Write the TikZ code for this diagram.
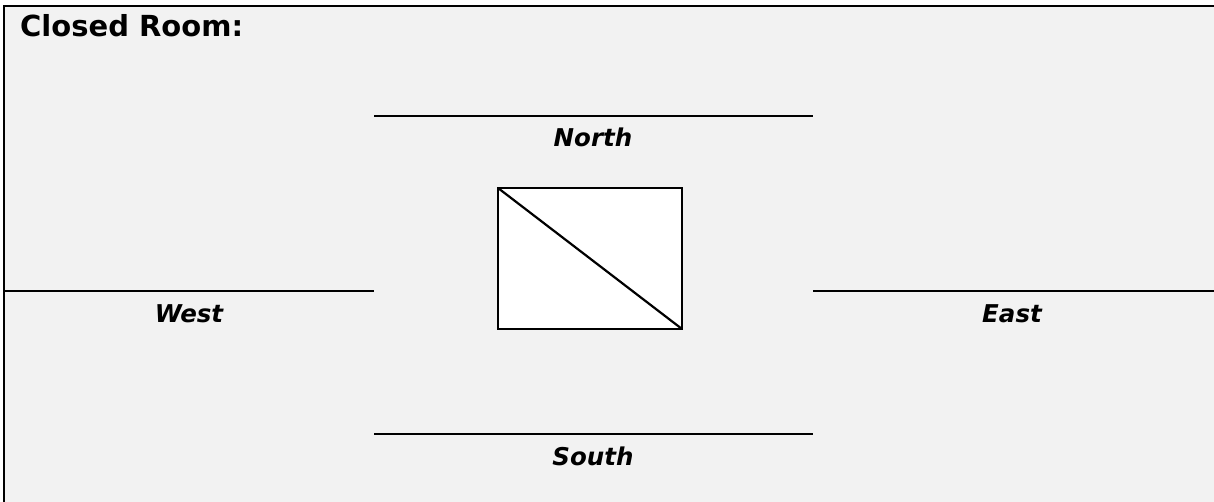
\documentclass[tikz,border=0pt]{standalone}
\usepackage{fontspec}
\setmainfont{DejaVu Sans}
\definecolor{bg}{RGB}{242,242,242}
\begin{document}
\begin{tikzpicture}[x=1pt,y=-1pt,
  wall/.style={line width=2.6pt,black},
  lbl/.style={font=\fontsize{24.5}{28}\selectfont\bfseries\itshape,anchor=base,inner sep=0pt},
  ttl/.style={font=\fontsize{29}{32}\selectfont\bfseries,anchor=base west,inner sep=0pt}]
\useasboundingbox (0,0) rectangle (1214,502);
\fill[white] (0,0) rectangle (1214,502);
\fill[bg] (4,6) rectangle (1214,502);
% border (left and top)
\draw[wall] (1214,6) -- (4,6) -- (4,502);
% title
\node[ttl] (title) at (20,37) {Closed Room:};
% walls
\coordinate (n1) at (374,116); \coordinate (n2) at (813,116);
\coordinate (s1) at (374,434); \coordinate (s2) at (813,434);
\coordinate (w1) at (4,291); \coordinate (w2) at (374,291);
\coordinate (e1) at (813,291); \coordinate (e2) at (1214,291);
\draw[wall] (n1) -- (n2);
\draw[wall] (s1) -- (s2);
\draw[wall] (w1) -- (w2);
\draw[wall] (e1) -- (e2);
\node[lbl] (north) at (593,147) {North};
\node[lbl] (south) at (593,465) {South};
\node[lbl] (west) at (189,322) {West};
\node[lbl] (east) at (1012,322) {East};
% box
\coordinate (bTL) at (498,188); \coordinate (bBR) at (682,329);
\draw[line width=2.2pt,fill=white] (bTL) rectangle (bBR);
\draw[line width=2.2pt] (bTL) -- (bBR);
\end{tikzpicture}
\end{document}
